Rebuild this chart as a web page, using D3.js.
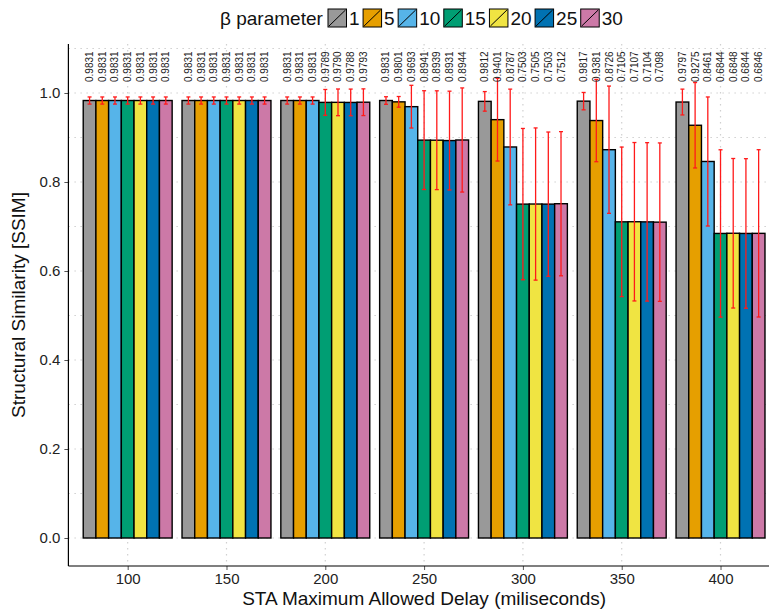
<!DOCTYPE html>
<html><head><meta charset="utf-8">
<script src="https://cdn.jsdelivr.net/npm/d3@7"></script>
<style>body{margin:0;background:#fff}svg{font-family:"Liberation Sans",Arial,Helvetica,sans-serif}</style>
</head><body><svg id="c" width="769" height="613"></svg>
<script>
const delays = ["100","150","200","250","300","350","400"];
const betas = ["1","5","10","15","20","25","30"];
const colors = ["#999999","#E69F00","#56B4E9","#009E73","#F0E442","#0072B2","#CC79A7"];
// mean SSIM per beta (rows) for each delay (columns)
const means = [
  [0.9831,0.9831,0.9831,0.9831,0.9812,0.9817,0.9797],
  [0.9831,0.9831,0.9831,0.9801,0.9401,0.9381,0.9275],
  [0.9831,0.9831,0.9831,0.9693,0.8787,0.8726,0.8461],
  [0.9831,0.9831,0.9789,0.8941,0.7503,0.7105,0.6844],
  [0.9831,0.9831,0.9790,0.8939,0.7505,0.7107,0.6848],
  [0.9831,0.9831,0.9788,0.8931,0.7503,0.7104,0.6844],
  [0.9831,0.9831,0.9793,0.8944,0.7512,0.7098,0.6846]
];
const sds = [
  [0.008,0.008,0.008,0.0085,0.022,0.0195,0.029],
  [0.008,0.008,0.008,0.012,0.093,0.0925,0.096],
  [0.008,0.008,0.008,0.048,0.130,0.143,0.145],
  [0.008,0.008,0.029,0.111,0.170,0.168,0.188],
  [0.008,0.008,0.030,0.111,0.171,0.178,0.168],
  [0.008,0.008,0.030,0.111,0.162,0.178,0.168],
  [0.008,0.008,0.030,0.117,0.162,0.178,0.188]
];
const yTicks = [0,0.2,0.4,0.6,0.8,1.0];
const yMinor = [0.1,0.3,0.5,0.7,0.9,1.1];

const svg = d3.select("#c");
const panel = {left:68.4, right:779.8, top:44, bottom:566};
const step = (panel.right-panel.left)/(delays.length+0.2);
const xc = d3.scalePoint().domain(delays).range([panel.left+0.6*step, panel.right-0.6*step]);
const groupW = 0.9*step;
const xb = d3.scaleBand().domain(betas).range([0,groupW]);
const y = d3.scaleLinear().domain([0,1]).range([538,93]);

// grid
const g = svg.append("g");
g.selectAll(".hg").data(yTicks.concat(yMinor)).join("line")
  .attr("x1",panel.left).attr("x2",769).attr("y1",d=>y(d)).attr("y2",d=>y(d))
  .attr("stroke","#d0d0d0").attr("stroke-width",1.2).attr("stroke-dasharray","1.5,4.5");
g.selectAll(".vg").data(delays).join("line")
  .attr("x1",d=>xc(d)).attr("x2",d=>xc(d)).attr("y1",panel.top).attr("y2",panel.bottom)
  .attr("stroke","#d0d0d0").attr("stroke-width",1.2).attr("stroke-dasharray","1.5,4.5");

// bars
const rows = [];
betas.forEach((b,i)=>delays.forEach((d,j)=>rows.push({b,d,i,m:means[i][j],s:sds[i][j]})));
svg.append("g").selectAll("rect").data(rows).join("rect")
  .attr("x",r=>xc(r.d)-groupW/2+xb(r.b)).attr("width",xb.bandwidth())
  .attr("y",r=>y(r.m)).attr("height",r=>y(0)-y(r.m))
  .attr("fill",r=>colors[r.i]).attr("stroke","#000").attr("stroke-width",1.4);

// error bars
const eb = svg.append("g").attr("stroke","#ff1a1a").attr("stroke-width",1.3);
rows.forEach(r=>{
  const cx = xc(r.d)-groupW/2+xb(r.b)+xb.bandwidth()/2;
  eb.append("line").attr("x1",cx).attr("x2",cx).attr("y1",y(r.m+r.s)).attr("y2",y(r.m-r.s));
  [r.m+r.s,r.m-r.s].forEach(v=>eb.append("line").attr("x1",cx-2).attr("x2",cx+2).attr("y1",y(v)).attr("y2",y(v)));
});

// value labels
svg.append("g").selectAll("text").data(rows).join("text")
  .attr("transform",r=>`translate(${xc(r.d)-groupW/2+xb(r.b)+xb.bandwidth()/2},${y(1.0247)}) rotate(-90)`)
  .attr("dy","0.35em").attr("font-size",10).attr("fill","#222").text(r=>r.m.toFixed(4));

// axes
const ya = svg.append("g").attr("transform",`translate(${panel.left},0)`)
  .call(d3.axisLeft(y).tickValues(yTicks).tickFormat(d3.format(".1f")).tickSize(4).tickPadding(4));
ya.select(".domain").remove();
ya.selectAll(".tick line").attr("stroke","#555");
ya.selectAll("text").attr("font-size",15).attr("fill","#222").attr("font-family","Liberation Sans, Arial");
svg.append("line").attr("x1",panel.left).attr("x2",panel.left).attr("y1",panel.top).attr("y2",panel.bottom).attr("stroke","#000").attr("stroke-width",1.2);

const xa = svg.append("g").attr("transform",`translate(0,${panel.bottom})`)
  .call(d3.axisBottom(xc).tickSize(4).tickPadding(3));
xa.select(".domain").remove();
xa.selectAll(".tick line").attr("stroke","#555");
xa.selectAll("text").attr("font-size",15).attr("fill","#222").attr("font-family","Liberation Sans, Arial");
svg.append("line").attr("x1",panel.left).attr("x2",769).attr("y1",panel.bottom).attr("y2",panel.bottom).attr("stroke","#000").attr("stroke-width",1.2);

// titles
svg.append("text").attr("x",(panel.left+panel.right)/2).attr("y",605).attr("text-anchor","middle")
  .attr("font-size",19).attr("fill","#111").text("STA Maximum Allowed Delay (miliseconds)");
svg.append("text").attr("transform",`translate(25,${(panel.top+panel.bottom)/2}) rotate(-90)`)
  .attr("text-anchor","middle").attr("font-size",19).attr("fill","#111").text("Structural Similarity [SSIM]");

// legend
const lg = svg.append("g");
lg.append("text").attr("x",220).attr("y",25).attr("font-size",19).attr("fill","#111").text("β parameter");
let lx = 328;
betas.forEach((b,i)=>{
  lg.append("rect").attr("x",lx).attr("y",9).attr("width",18.5).attr("height",18).attr("fill",colors[i]).attr("stroke","#000").attr("stroke-width",1);
  lg.append("line").attr("x1",lx+1).attr("y1",26).attr("x2",lx+17.5).attr("y2",10).attr("stroke","#000").attr("stroke-width",1);
  const t = lg.append("text").attr("x",lx+21).attr("y",25).attr("font-size",19).attr("fill","#111").text(b);
  lx += 21 + t.node().getComputedTextLength() + 3.5;
});
</script></body></html>
